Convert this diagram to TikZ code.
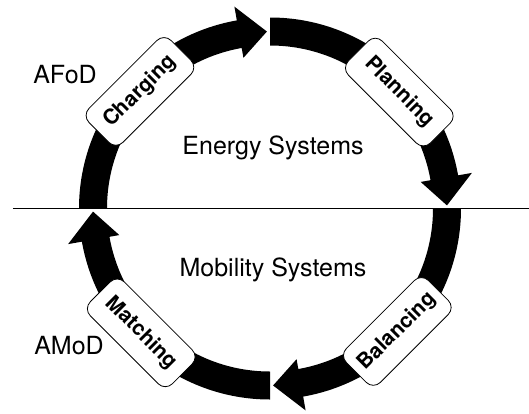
\documentclass[tikz,border=0pt]{standalone}
\usepackage{fontspec}
\setmainfont{TeX Gyre Heros}
\tikzset{
  stage/.style={draw, fill=white, rounded corners=10pt, line width=0.8pt,
    minimum width=116pt, minimum height=48pt, inner sep=0pt,
    font=\fontsize{21}{24}\selectfont\bfseries},
  caption/.style={font=\fontsize{25}{30}\selectfont}
}
\begin{document}
\begin{tikzpicture}[x=1pt,y=1pt]
      \useasboundingbox (-270,-204.5) rectangle (259,208.5);
      % ring of arrows
      \fill (180:163) arc[start angle=180, end angle=100, radius=163]
        -- (100:153) -- (91:177) -- (100:205) -- (100:191)
        arc[start angle=100, end angle=180, radius=191] -- cycle;
      \fill (90:163) arc[start angle=90, end angle=10, radius=163]
        -- (10:153) -- (1:177) -- (10:205) -- (10:191)
        arc[start angle=10, end angle=90, radius=191] -- cycle;
      \fill (0:163) arc[start angle=0, end angle=-80, radius=163]
        -- (-80:153) -- (-89:177) -- (-80:205) -- (-80:191)
        arc[start angle=-80, end angle=0, radius=191] -- cycle;
      \fill (-90:163) arc[start angle=-90, end angle=-170, radius=163]
        -- (-170:153) -- (-179:177) -- (-170:205) -- (-170:191)
        arc[start angle=-170, end angle=-90, radius=191] -- cycle;
      % divider
      \coordinate (l) at (-257,0);
      \coordinate (r) at (259,0);
      \draw[line width=0.8pt] (l) -- (r);
      % stages
      \draw
        (138:175) node[stage, rotate=45] (charging){Charging}
        (42:174) node[stage, rotate=-45] (planning){Planning}
        (-44:177) node[stage, rotate=45] (balancing){Balancing}
        (-136:179) node[stage, rotate=-45] (matching){Matching};
      % texts
      \node[caption] (afod) at (-205,133.5) {AFoD};
      \node[caption] (amod) at (-201,-137.5) {AMoD};
      \node[caption] (energy) at (3,60.5) {Energy Systems};
      \node[caption] (mobility) at (3,-61.5) {Mobility Systems};
    \end{tikzpicture}
\end{document}
